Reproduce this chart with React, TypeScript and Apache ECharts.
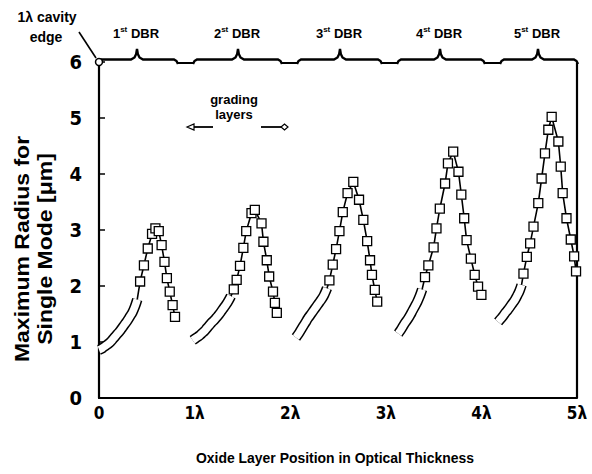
import React, { useEffect, useRef } from 'react';
import * as echarts from 'echarts';

// X tick labels (optical thickness in wavelengths)
const xTickValues = [0, 1, 2, 3, 4, 5];
const xTickLabels = ['0', '1λ', '2λ', '3λ', '4λ', '5λ'];

// DBR period labels
const dbrNumbers = ['1', '2', '3', '4', '5'];

// Period 1: grading band, then discrete layers
const p1BandX = [0, 0.025, 0.05, 0.075, 0.1, 0.125, 0.15, 0.175, 0.2, 0.225, 0.25, 0.275, 0.3, 0.325, 0.35, 0.375, 0.40];
const p1BandY = [0.86, 0.88, 0.91, 0.94, 0.97, 1.01, 1.06, 1.11, 1.16, 1.21, 1.27, 1.33, 1.39, 1.46, 1.53, 1.63, 1.76];
const p1MarkX = [0.43, 0.47, 0.51, 0.555, 0.59, 0.625, 0.655, 0.685, 0.71, 0.74, 0.77, 0.795];
const p1MarkY = [2.08, 2.37, 2.67, 2.93, 3.03, 2.98, 2.73, 2.43, 2.14, 1.90, 1.66, 1.45];

// Period 2
const p2BandX = [0.98, 1.005, 1.03, 1.055, 1.08, 1.105, 1.13, 1.155, 1.18, 1.205, 1.23, 1.255, 1.28, 1.305, 1.33, 1.355, 1.38];
const p2BandY = [1.03, 1.06, 1.09, 1.12, 1.16, 1.20, 1.25, 1.30, 1.35, 1.39, 1.44, 1.49, 1.55, 1.61, 1.67, 1.74, 1.82];
const p2MarkX = [1.41, 1.44, 1.475, 1.51, 1.54, 1.595, 1.63, 1.70, 1.72, 1.755, 1.78, 1.82, 1.84, 1.86];
const p2MarkY = [1.94, 2.11, 2.36, 2.68, 2.98, 3.30, 3.36, 3.12, 2.79, 2.46, 2.17, 1.90, 1.70, 1.52];

// Period 3
const p3BandX = [2.06, 2.085, 2.11, 2.135, 2.16, 2.185, 2.21, 2.235, 2.26, 2.285, 2.31, 2.335, 2.36, 2.385];
const p3BandY = [1.08, 1.14, 1.21, 1.28, 1.35, 1.42, 1.48, 1.54, 1.60, 1.66, 1.72, 1.78, 1.86, 1.96];
const p3MarkX = [2.41, 2.445, 2.48, 2.515, 2.55, 2.60, 2.66, 2.72, 2.765, 2.805, 2.835, 2.855, 2.885, 2.91];
const p3MarkY = [2.10, 2.38, 2.66, 2.98, 3.32, 3.66, 3.86, 3.54, 3.18, 2.80, 2.46, 2.20, 1.93, 1.72];

// Period 4
const p4BandX = [3.13, 3.155, 3.18, 3.205, 3.23, 3.255, 3.28, 3.305, 3.33, 3.355, 3.38];
const p4BandY = [1.15, 1.21, 1.28, 1.35, 1.41, 1.48, 1.56, 1.64, 1.72, 1.82, 1.94];
const p4MarkX = [3.41, 3.445, 3.50, 3.53, 3.565, 3.62, 3.65, 3.705, 3.76, 3.79, 3.82, 3.845, 3.89, 3.93, 3.965, 4.00];
const p4MarkY = [2.16, 2.37, 2.69, 3.03, 3.38, 3.83, 4.19, 4.40, 4.04, 3.63, 3.21, 2.82, 2.49, 2.20, 1.99, 1.84];

// Period 5
const p5BandX = [4.175, 4.20, 4.225, 4.25, 4.275, 4.30, 4.325, 4.35, 4.375, 4.40, 4.42];
const p5BandY = [1.36, 1.41, 1.46, 1.52, 1.57, 1.63, 1.69, 1.75, 1.83, 1.92, 2.02];
const p5MarkX = [4.44, 4.475, 4.51, 4.545, 4.595, 4.63, 4.665, 4.70, 4.735, 4.805, 4.83, 4.85, 4.89, 4.935, 4.97, 4.99];
const p5MarkY = [2.22, 2.52, 2.76, 3.06, 3.48, 3.92, 4.37, 4.79, 5.02, 4.58, 4.13, 3.66, 3.21, 2.83, 2.53, 2.26];

const periods: [number[], number[], number[], number[]][] = [
  [p1BandX, p1BandY, p1MarkX, p1MarkY],
  [p2BandX, p2BandY, p2MarkX, p2MarkY],
  [p3BandX, p3BandY, p3MarkX, p3MarkY],
  [p4BandX, p4BandY, p4MarkX, p4MarkY],
  [p5BandX, p5BandY, p5MarkX, p5MarkY],
];

const FONT = '"Liberation Sans", Arial, sans-serif';
const NARROW = '"Liberation Sans Narrow", "DejaVu Sans Condensed", "Liberation Sans", Arial, sans-serif';

export default function App() {
  const ref = useRef<HTMLDivElement>(null);
  useEffect(() => {
    const chart = echarts.init(ref.current!, null, { renderer: 'svg' });
    const L = 99, T = 62, R = 577, B = 398;

    const braces = [[97, 178, 137], [193, 282, 238], [297, 382, 340], [397, 485, 440], [500, 578, 538]];
    const graphics: any[] = [];
    braces.forEach(([a, b, m], i) => {
      graphics.push({
        type: 'polyline',
        shape: {
          points: [
            [a, 64], [a + 1.5, 61], [a + 4, 59.5], [m - 6, 59.5], [m - 2.5, 57.5], [m - 0.8, 54], [m, 49],
            [m + 0.8, 54], [m + 2.5, 57.5], [m + 6, 59.5], [b - 4, 59.5], [b - 1.5, 61], [b, 64],
          ],
        },
        style: { stroke: '#000', lineWidth: 2.4, fill: null },
        silent: true,
      });
      graphics.push({
        type: 'text',
        x: m - 1,
        y: 33,
        style: {
          text: `{n|${dbrNumbers[i]}}{s|st}{d| DBR}`,
          align: 'center',
          verticalAlign: 'middle',
          rich: {
            n: { fontSize: 13, fontWeight: 'bold', fontFamily: FONT, fill: '#000', lineHeight: 16 },
            s: { fontSize: 8, fontWeight: 'bold', fontFamily: FONT, fill: '#000', verticalAlign: 'top', lineHeight: 16 },
            d: { fontSize: 13, fontWeight: 'bold', fontFamily: FONT, fill: '#000', lineHeight: 16 },
          },
        },
      });
    });
    for (let i = 0; i < braces.length - 1; i++) {
      graphics.push({
        type: 'line',
        shape: { x1: braces[i][1], y1: 63, x2: braces[i + 1][0], y2: 63 },
        style: { stroke: '#000', lineWidth: 2 },
      });
    }
    graphics.push({ type: 'line', shape: { x1: R, y1: 63, x2: R, y2: B }, style: { stroke: '#000', lineWidth: 2.2 } });
    graphics.push({ type: 'line', shape: { x1: 79, y1: 32, x2: 96, y2: 58 }, style: { stroke: '#000', lineWidth: 1.6 } });
    graphics.push({ type: 'circle', shape: { cx: L, cy: T, r: 3.5 }, style: { fill: '#fff', stroke: '#000', lineWidth: 1.5 }, z: 100 });
    graphics.push({
      type: 'text', x: 47, y: 17,
      style: { text: '1λ cavity', fontSize: 14, fontWeight: 'bold', fontFamily: FONT, fill: '#000', align: 'center', verticalAlign: 'middle' },
    });
    graphics.push({
      type: 'text', x: 46, y: 37,
      style: { text: 'edge', fontSize: 14, fontWeight: 'bold', fontFamily: FONT, fill: '#000', align: 'center', verticalAlign: 'middle' },
    });
    graphics.push({
      type: 'text', x: 234, y: 99,
      style: { text: 'grading', fontSize: 13, fontWeight: 'bold', fontFamily: FONT, fill: '#000', align: 'center', verticalAlign: 'middle' },
    });
    graphics.push({
      type: 'text', x: 234, y: 114,
      style: { text: 'layers', fontSize: 13, fontWeight: 'bold', fontFamily: FONT, fill: '#000', align: 'center', verticalAlign: 'middle' },
    });
    graphics.push({ type: 'line', shape: { x1: 193, y1: 127, x2: 213, y2: 127 }, style: { stroke: '#000', lineWidth: 1.8 } });
    graphics.push({
      type: 'polygon', shape: { points: [[187, 127], [194, 124], [194, 130]] },
      style: { fill: '#fff', stroke: '#000', lineWidth: 1.2 },
    });
    graphics.push({ type: 'line', shape: { x1: 261, y1: 127, x2: 282, y2: 127 }, style: { stroke: '#000', lineWidth: 1.8 } });
    graphics.push({
      type: 'polygon', shape: { points: [[281, 127], [284.5, 124], [288, 127], [284.5, 130]] },
      style: { fill: '#fff', stroke: '#000', lineWidth: 1.2 },
    });
    graphics.push({
      type: 'text', x: 34, y: 249, rotation: Math.PI / 2, scaleX: 1.15, scaleY: 1,
      style: {
        text: 'Maximum Radius for\nSingle Mode [μm]', fontSize: 20, fontWeight: 'bold', fontFamily: FONT,
        fill: '#000', align: 'center', verticalAlign: 'middle', lineHeight: 23,
      },
    });
    graphics.push({
      type: 'text', x: 335, y: 458, scaleX: 0.93,
      style: {
        text: 'Oxide Layer Position in Optical Thickness', fontSize: 15, fontWeight: 'bold', fontFamily: FONT,
        fill: '#000', align: 'center', verticalAlign: 'middle',
      },
    });

    const series: any[] = [];
    periods.forEach(([bx, by, mx, my]) => {
      const band = bx.map((x, i) => [x, by[i]]);
      series.push({
        type: 'line', data: band, symbol: 'none', smooth: true, z: 2,
        lineStyle: { color: '#000', width: 10.5, cap: 'butt' }, silent: true,
      });
      series.push({
        type: 'line', data: band, symbol: 'none', smooth: true, z: 3,
        lineStyle: { color: '#fff', width: 7.5, cap: 'butt' }, silent: true,
      });
      const last = band[band.length - 1];
      series.push({
        type: 'line', z: 4,
        data: [{ value: last, symbol: 'none' }, ...mx.map((x, i) => [x, my[i]])],
        symbol: 'rect', symbolSize: 9, showAllSymbol: true,
        itemStyle: { color: '#fff', borderColor: '#000', borderWidth: 1.3 },
        lineStyle: { color: '#000', width: 1.6 },
        silent: true,
      });
    });

    chart.setOption({
      animation: false,
      backgroundColor: '#fff',
      grid: { left: L, top: T, right: 592 - R, bottom: 474 - B, containLabel: false },
      xAxis: {
        type: 'value', min: 0, max: 5, interval: 1,
        axisLine: { show: true, onZero: false, lineStyle: { color: '#000', width: 2.2 } },
        axisTick: { show: false },
        splitLine: { show: false },
        axisLabel: {
          margin: 6, color: '#000', fontSize: 17, fontWeight: 'bold', fontFamily: NARROW,
          formatter: (v: number) => xTickLabels[xTickValues.indexOf(v)] ?? '',
        },
      },
      yAxis: {
        type: 'value', min: 0, max: 6, interval: 1,
        axisLine: { show: true, lineStyle: { color: '#000', width: 2.2 } },
        axisTick: { show: true, inside: true, length: 6, lineStyle: { color: '#000', width: 1.5 } },
        splitLine: { show: false },
        axisLabel: { margin: 17, color: '#000', fontSize: 20, fontWeight: 'bold', fontFamily: NARROW },
      },
      series,
      graphic: graphics,
    });
    return () => chart.dispose();
  }, []);
  return (
    <div
      ref={ref}
      style={{ position: 'fixed', left: 0, top: 0, width: 592, height: 474, background: '#fff' }}
    />
  );
}
